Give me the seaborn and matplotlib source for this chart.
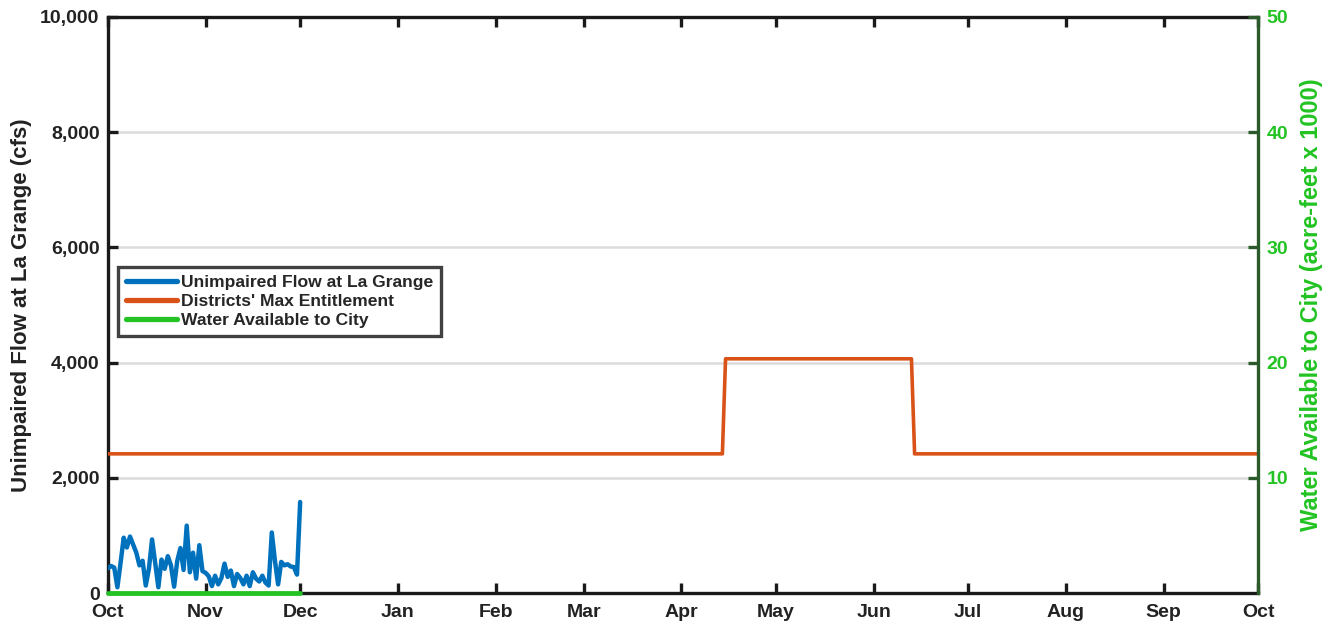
import numpy as np
import pandas as pd
import matplotlib
matplotlib.use("Agg")
import matplotlib.pyplot as plt
import seaborn as sns

# Daily unimpaired flow at La Grange (cfs), Oct 1 through Dec 1
flow_start = "2012-10-01"
flow_cfs = [430, 470, 440, 100, 520, 960, 790, 980, 840, 700,
            480, 560, 130, 420, 930, 520, 100, 580, 420, 640,
            480, 110, 560, 780, 400, 1170, 360, 700, 250, 830,
            380, 350, 290, 120, 300, 150, 260, 510, 280, 390,
            120, 330, 260, 150, 300, 120, 360, 250, 200, 300,
            180, 130, 1050, 560, 150, 540, 480, 500, 460, 450,
            320, 1580]

# Districts' maximum entitlement (cfs), step breakpoints over the water year
ent_dates = ["2012-10-01", "2013-04-14", "2013-04-15", "2013-06-13", "2013-06-14", "2013-10-01"]
ent_cfs = [2416, 2416, 4066, 4066, 2416, 2416]

# Water available to the City (acre-feet x 1000), same days as the flow record
city_kaf = [0.0] * len(flow_cfs)

month_labels = ["Oct", "Nov", "Dec", "Jan", "Feb", "Mar", "Apr",
                "May", "Jun", "Jul", "Aug", "Sep", "Oct"]
left_ticks = [0, 2000, 4000, 6000, 8000, 10000]
right_ticks = [10, 20, 30, 40, 50]

BLUE = "#0072BD"
ORANGE = "#D95319"
GREEN = "#22C322"
DKGREEN = "#2B5A2B"
INK = "#222222"

flow_df = pd.DataFrame({
    "date": pd.date_range(flow_start, periods=len(flow_cfs), freq="D"),
    "cfs": flow_cfs,
})
flow_df["kaf"] = city_kaf
ent_df = pd.DataFrame({"date": pd.to_datetime(ent_dates), "cfs": ent_cfs})

sns.set_theme(style="ticks")
plt.rcParams["font.family"] = ["Liberation Sans", "DejaVu Sans"]
plt.rcParams["font.weight"] = "bold"

fig = plt.figure(figsize=(13.31, 6.31), dpi=100)
ax = fig.add_axes([0.0811, 0.0602, 0.8641, 0.9129])

sns.lineplot(data=flow_df, x="date", y="cfs", ax=ax, color=BLUE, lw=3.2,
             label="Unimpaired Flow at La Grange", legend=False, zorder=3)
sns.lineplot(data=ent_df, x="date", y="cfs", ax=ax, color=ORANGE, lw=2.6,
             label="Districts' Max Entitlement", legend=False, zorder=3)

x0, x1 = pd.Timestamp("2012-10-01"), pd.Timestamp("2013-10-01")
ax.set_xlim(x0, x1)
ax.set_ylim(0, 10000)
ax.set_yticks(left_ticks)
ax.set_yticklabels([f"{v:,}" for v in left_ticks])
month_ticks = pd.date_range(x0, x1, freq="MS")
ax.set_xticks(month_ticks)
ax.set_xticklabels(month_labels)
ax.set_xlabel("")
ax.set_ylabel("Unimpaired Flow at La Grange (cfs)", fontsize=16,
              fontweight="bold", color=INK)
ax.yaxis.set_label_coords(-0.066, 0.5)

ax.yaxis.grid(True, color="#dcdcdc", lw=1.8)
ax.set_axisbelow(True)
for side in ["left", "top", "bottom"]:
    ax.spines[side].set_color("#1a1a1a")
    ax.spines[side].set_linewidth(2.4)
ax.spines["right"].set_visible(False)
ax.tick_params(axis="both", direction="in", length=7, width=2.4,
               colors="#1a1a1a", labelsize=14, top=True)
ax.tick_params(axis="x", pad=8)
ax.tick_params(axis="y", pad=6)
for t in ax.get_xticklabels() + ax.get_yticklabels():
    t.set_fontweight("bold")
    t.set_color(INK)

ax2 = ax.twinx()
sns.lineplot(data=flow_df, x="date", y="kaf", ax=ax2, color=GREEN, lw=3.4,
             label="Water Available to City", legend=False, zorder=4)
for ln in ax2.lines:
    ln.set_clip_on(False)
ax2.set_ylim(0, 50)
ax2.set_yticks(right_ticks)
ax2.set_xlim(x0, x1)
for side in ["left", "top", "bottom"]:
    ax2.spines[side].set_visible(False)
ax2.spines["right"].set_color(DKGREEN)
ax2.spines["right"].set_linewidth(2.4)
ax2.tick_params(axis="y", direction="in", length=7, width=2.4,
                color=DKGREEN, labelcolor=GREEN, labelsize=14, pad=6)
for t in ax2.get_yticklabels():
    t.set_fontweight("bold")
ax2.set_ylabel("Water Available to City (acre-feet x 1000)", fontsize=17,
               fontweight="bold", color=GREEN)
ax2.yaxis.set_label_coords(1.0365, 0.5)
ax2.grid(False)

handles = ax.get_lines()[:2] + [ax2.get_lines()[0]]
labels = [h.get_label() for h in handles]
leg = ax2.legend(handles, labels, loc="upper left",
                 bbox_to_anchor=(0.0087, 0.566), frameon=True, fancybox=False,
                 edgecolor="#111111", handlelength=2.9, handletextpad=0.25,
                 borderpad=0.45, labelspacing=0.22, borderaxespad=0,
                 prop={"weight": "bold", "size": 12.6})
leg.get_frame().set_linewidth(2.4)
for h in leg.legend_handles:
    h.set_linewidth(3.8)

fig.savefig("out.png", dpi=100)
